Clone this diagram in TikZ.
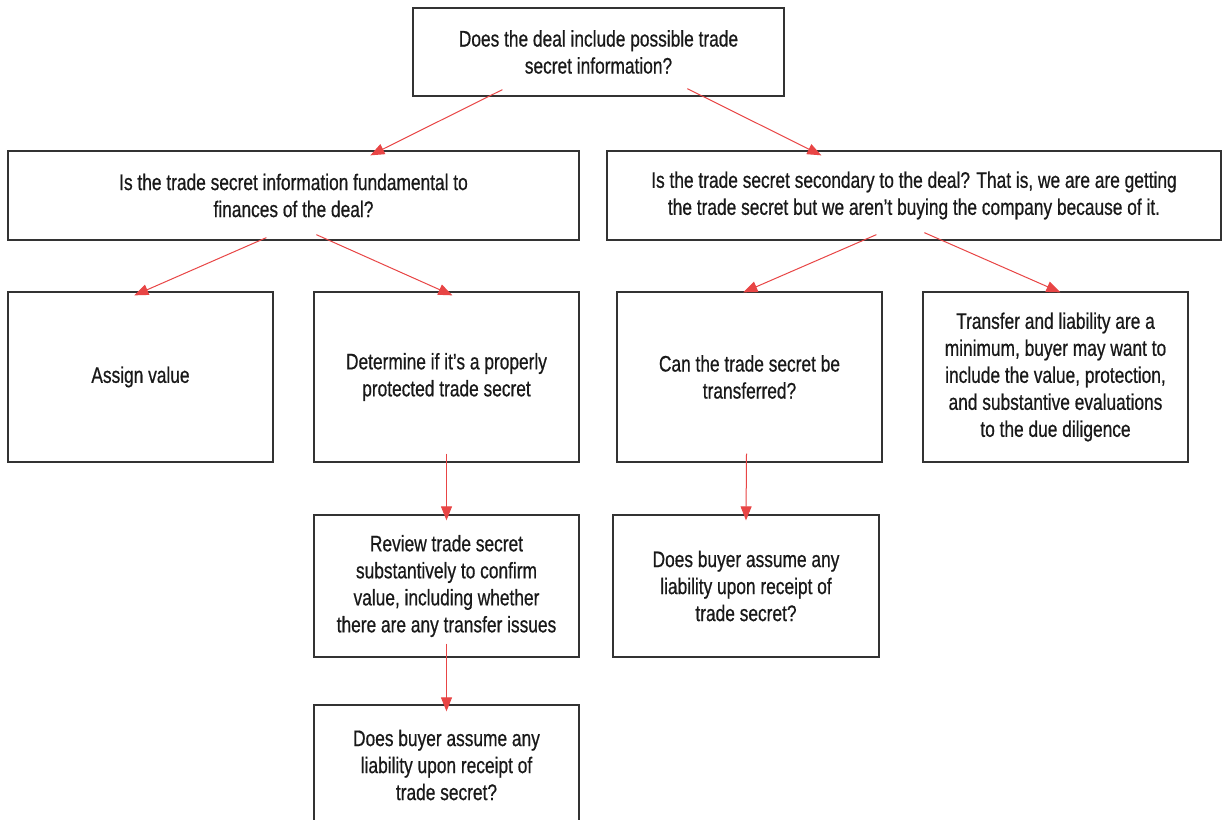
\documentclass[tikz,border=0pt]{standalone}
\usepackage{fontspec}
\setmainfont[FakeStretch=0.77,FakeBold=0.6]{Liberation Sans}
\usetikzlibrary{arrows.meta,calc}
\definecolor{arrowred}{HTML}{E84545}
\definecolor{boxline}{HTML}{333333}
\begin{document}
\begin{tikzpicture}[x=1pt,y=-1pt,
  box/.style={draw=boxline,line width=1.3pt,rectangle,inner sep=0pt,align=center,
    font=\fontsize{22.5}{27}\selectfont,text=black!90},
  link/.style={draw=arrowred,line width=1pt,-{Triangle[length=14pt,width=11pt]}}]
\useasboundingbox[fill=white] (0,0) rectangle (1223,819);

\node[box,minimum width=371,minimum height=88] (top) at (598.5,52) {Does the deal include possible trade\\secret information?};
\node[box,minimum width=571,minimum height=89] (l1) at (293.5,195.5) {Is the trade secret information fundamental to\\finances of the deal?};
\node[box,minimum width=614,minimum height=89] (r1) at (914,195.5) {Is the trade secret secondary to the deal? That is, we are are getting\\the trade secret but we aren’t buying the company because of it.};
\node[box,minimum width=265,minimum height=170] (a) at (140.5,377) {Assign value};
\node[box,minimum width=265,minimum height=170] (b) at (446.5,377) {Determine if it’s a properly\\protected trade secret};
\node[box,minimum width=265,minimum height=170] (c) at (749.5,377) {Can the trade secret be\\transferred?};
\node[box,minimum width=265,minimum height=170] (d) at (1055.5,377) {Transfer and liability are a\\minimum, buyer may want to\\include the value, protection,\\and substantive evaluations\\to the due diligence};
\node[box,minimum width=265,minimum height=142] (e) at (446.5,586) {Review trade secret\\substantively to confirm\\value, including whether\\there are any transfer issues};
\node[box,minimum width=266,minimum height=142] (f) at (746,586) {Does buyer assume any\\liability upon receipt of\\trade secret?};
\node[box,minimum width=265,minimum height=120] (g) at (446.5,765) {Does buyer assume any\\liability upon receipt of\\trade secret?};

\coordinate (t1) at ($(top.south west)+(90,-7)$);
\coordinate (t2) at ($(top.south west)+(275,-8)$);
\coordinate (l1a) at ($(l1.south west)+(259,-3)$);
\coordinate (l1b) at ($(l1.south west)+(309,-6)$);
\coordinate (r1a) at ($(r1.south west)+(270,-6)$);
\coordinate (r1b) at ($(r1.south west)+(318,-8)$);
\coordinate (bs) at ($(b.south)+(0,-9)$);
\coordinate (es) at ($(e.south)+(0,-14)$);
\coordinate (cs) at ($(c.south)+(-3,-9)$);

\draw[link] (t1) -- ($(l1.north west)+(363,5)$);
\draw[link] (t2) -- ($(r1.north west)+(215,5)$);
\draw[link] (l1a) -- ($(a.north west)+(127,4)$);
\draw[link] (l1b) -- ($(b.north west)+(139,4)$);
\draw[link] (r1a) -- ($(c.north west)+(127,1)$);
\draw[link] (r1b) -- ($(d.north west)+(138,1)$);
\draw[link] (bs) -- ($(e.north)+(0,6)$);
\draw[link] (es) -- ($(g.north)+(0,7)$);
\draw[link] (cs) -- ($(f.north)+(0,6)$);
\end{tikzpicture}
\end{document}
